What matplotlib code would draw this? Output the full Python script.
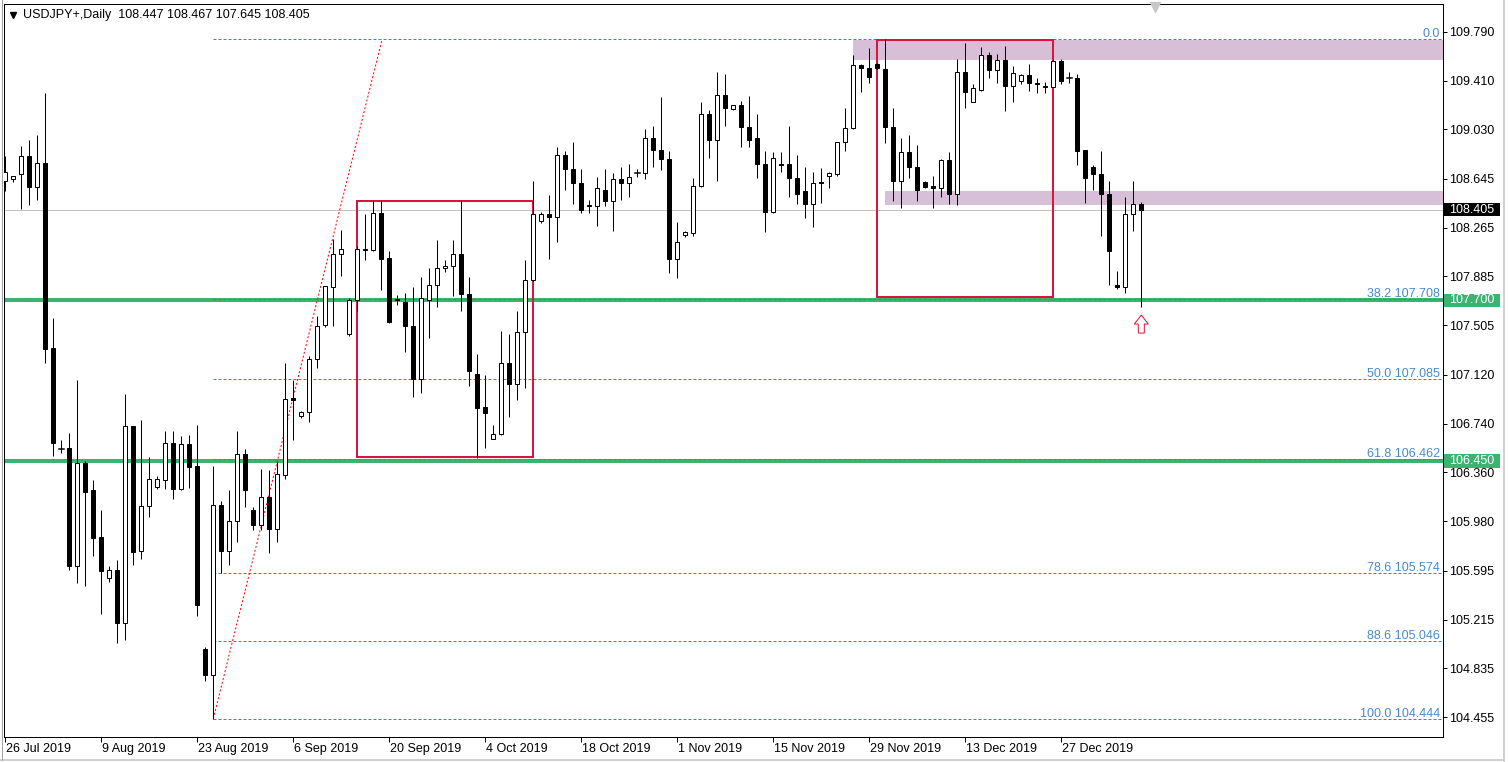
import matplotlib
matplotlib.use('Agg')
import matplotlib.pyplot as plt
import matplotlib.transforms as mtrans
from matplotlib.patches import Rectangle, Polygon
from matplotlib.lines import Line2D
import numpy as np

plt.rcParams['font.family'] = ['Liberation Sans', 'DejaVu Sans']

# ---------------- data (daily bars, USDJPY+) ----------------
opens = [108.63, 108.64, 108.68, 108.82, 108.58, 108.77, 107.33, 106.54, 106.55, 105.63,
         106.43, 106.22, 105.86, 105.54, 105.60, 105.19, 106.72, 105.75, 106.10, 106.25,
         106.30, 106.59, 106.23, 106.58, 106.41, 104.99, 104.78, 106.11, 105.75, 105.98,
         106.50, 106.07, 105.95, 106.17, 105.92, 106.34, 106.94, 106.80, 106.83, 107.24,
         107.51, 107.80, 108.06, 107.44, 107.70, 108.09, 108.09, 108.38, 108.03, 107.71,
         107.69, 107.50, 107.09, 107.70, 107.82, 107.95, 107.97, 108.06, 107.75, 107.13,
         106.87, 106.62, 106.66, 107.21, 107.05, 107.45, 107.86, 108.32, 108.37, 108.35,
         108.83, 108.72, 108.61, 108.44, 108.43, 108.56, 108.47, 108.64, 108.61, 108.69,
         108.69, 108.96, 108.87, 108.80, 108.02, 108.21, 108.22, 108.59, 109.15, 108.95,
         109.30, 109.19, 109.22, 109.05, 108.96, 108.76, 108.39, 108.76, 108.76, 108.65,
         108.55, 108.45, 108.62, 108.67, 108.68, 108.93, 109.04, 109.53, 109.51, 109.54,
         109.50, 109.05, 108.63, 108.85, 108.74, 108.62, 108.59, 108.57, 108.79, 108.53,
         109.48, 109.24, 109.34, 109.61, 109.49, 109.57, 109.37, 109.41, 109.45, 109.39,
         109.37, 109.36, 109.56, 109.43, 109.43, 108.87, 108.74, 108.68, 108.53, 107.82,
         107.80, 108.37, 108.447]
highs = [108.82, 108.67, 108.90, 108.95, 108.99, 109.31, 107.56, 106.61, 106.67, 107.08,
         106.45, 106.30, 106.07, 105.63, 105.68, 106.97, 106.72, 106.77, 106.48, 106.33,
         106.68, 106.68, 106.64, 106.65, 106.73, 105.00, 106.41, 106.14, 106.22, 106.68,
         106.54, 106.09, 106.39, 106.38, 106.44, 107.21, 107.08, 106.84, 107.27, 107.58,
         107.81, 108.18, 108.25, 107.72, 108.12, 108.37, 108.47, 108.47, 108.08, 107.74,
         107.76, 107.80, 107.88, 107.95, 108.17, 108.01, 108.17, 108.47, 107.88, 107.28,
         107.12, 106.73, 107.46, 107.44, 107.62, 108.01, 108.63, 108.39, 108.52, 108.89,
         108.86, 108.93, 108.72, 108.48, 108.66, 108.72, 108.69, 108.74, 108.76, 108.72,
         109.03, 109.06, 109.28, 108.86, 108.31, 108.24, 108.65, 109.24, 109.18, 109.48,
         109.46, 109.22, 109.25, 109.29, 109.15, 108.86, 108.85, 108.85, 109.06, 108.83,
         108.74, 108.70, 108.73, 108.70, 108.93, 109.20, 109.61, 109.54, 109.66, 109.55,
         109.73, 109.20, 108.96, 108.99, 108.91, 108.63, 108.67, 108.80, 108.85, 109.58,
         109.70, 109.38, 109.67, 109.63, 109.62, 109.68, 109.52, 109.46, 109.54, 109.43,
         109.40, 109.57, 109.58, 109.48, 109.46, 108.87, 108.75, 108.86, 108.63, 107.93,
         108.50, 108.63, 108.467]
lows = [108.55, 108.62, 108.41, 108.44, 108.48, 107.21, 106.49, 106.51, 105.60, 105.50,
        105.48, 105.71, 105.26, 105.51, 105.03, 105.06, 105.64, 105.69, 106.01, 106.23,
        106.23, 106.15, 106.22, 106.24, 105.24, 104.74, 104.444, 105.58, 105.64, 105.82,
        106.09, 105.91, 105.91, 105.73, 105.82, 106.31, 106.61, 106.78, 106.75, 107.17,
        107.49, 107.50, 107.89, 107.42, 107.62, 108.01, 108.08, 107.78, 107.52, 107.66,
        107.30, 106.95, 106.98, 107.41, 107.65, 107.92, 107.73, 107.62, 107.03, 106.47,
        106.55, 106.62, 106.65, 106.79, 106.92, 107.02, 107.85, 108.30, 108.02, 108.15,
        108.56, 108.45, 108.38, 108.38, 108.28, 108.43, 108.24, 108.48, 108.50, 108.66,
        108.64, 108.74, 108.71, 107.91, 107.87, 108.19, 108.20, 108.58, 108.81, 108.63,
        109.06, 109.18, 108.89, 108.89, 108.65, 108.23, 108.38, 108.70, 108.50, 108.45,
        108.34, 108.27, 108.46, 108.57, 108.67, 108.86, 109.03, 109.32, 109.39, 109.50,
        108.92, 108.47, 108.42, 108.65, 108.47, 108.57, 108.42, 108.50, 108.45, 108.44,
        109.20, 109.24, 109.33, 109.43, 109.39, 109.17, 109.24, 109.38, 109.33, 109.31,
        109.31, 109.36, 109.38, 109.39, 108.75, 108.46, 108.56, 108.20, 107.82, 107.79,
        107.76, 108.24, 107.645]
closes = [108.70, 108.67, 108.82, 108.58, 108.77, 107.32, 106.59, 106.54, 105.63, 106.43,
          106.21, 105.85, 105.59, 105.60, 105.19, 106.72, 105.74, 106.10, 106.31, 106.31,
          106.59, 106.23, 106.58, 106.40, 105.33, 104.78, 106.11, 105.75, 105.98, 106.50,
          106.22, 105.95, 106.17, 105.92, 106.35, 106.93, 106.92, 106.83, 107.24, 107.50,
          107.81, 108.06, 108.10, 107.70, 108.10, 108.10, 108.38, 108.02, 107.53, 107.70,
          107.50, 107.09, 107.72, 107.82, 107.95, 107.97, 108.06, 107.75, 107.15, 106.86,
          106.82, 106.66, 107.21, 107.05, 107.45, 107.86, 108.37, 108.37, 108.35, 108.83,
          108.72, 108.61, 108.40, 108.43, 108.57, 108.47, 108.64, 108.61, 108.66, 108.69,
          108.96, 108.87, 108.80, 108.02, 108.15, 108.23, 108.59, 109.15, 108.95, 109.30,
          109.20, 109.22, 109.05, 108.95, 108.76, 108.39, 108.81, 108.75, 108.65, 108.53,
          108.45, 108.61, 108.61, 108.69, 108.93, 109.04, 109.53, 109.51, 109.44, 109.51,
          109.05, 108.63, 108.85, 108.74, 108.56, 108.58, 108.57, 108.79, 108.53, 109.48,
          109.32, 109.35, 109.61, 109.49, 109.57, 109.37, 109.47, 109.45, 109.39, 109.38,
          109.36, 109.56, 109.41, 109.43, 108.86, 108.65, 108.68, 108.53, 108.08, 107.80,
          108.37, 108.45, 108.405]

date_bars = [0, 12, 24, 36, 48, 60, 72, 84, 96, 108, 120, 132]
date_labels = ['26 Jul 2019', '9 Aug 2019', '23 Aug 2019', '6 Sep 2019', '20 Sep 2019',
               '4 Oct 2019', '18 Oct 2019', '1 Nov 2019', '15 Nov 2019', '29 Nov 2019',
               '13 Dec 2019', '27 Dec 2019']
price_ticks = [109.790, 109.410, 109.030, 108.645, 108.265, 107.885, 107.505, 107.120,
               106.740, 106.360, 105.980, 105.595, 105.215, 104.835, 104.455]

fib_ratios = ['0.0', '38.2', '50.0', '61.8', '78.6', '88.6', '100.0']
fib_prices = [109.731, 107.708, 107.085, 106.462, 105.574, 105.046, 104.444]
fib_anchor_bars = [26, 47.1]
fib_anchor_prices = [104.444, 109.731]

support_levels = [107.700, 106.450]
last_price = 108.405
header = 'USDJPY+,Daily  108.447 108.467 107.645 108.405'

# red boxes: (bar_left, bar_right, price_low, price_high)
red_boxes = [(43.96, 65.9, 106.478, 108.475), (108.96, 130.9, 107.728, 109.725)]
# purple zones: (bar_left, price_low, price_high), extend to right edge
zones = [(106.0, 109.572, 109.725), (110.0, 108.444, 108.550)]
arrow_bar, arrow_price = 142, 107.585

# ---------------- figure ----------------
W, H, DPI = 1508, 762, 100
fig = plt.figure(figsize=(W / DPI, H / DPI), dpi=DPI)
fig.patch.set_facecolor('white')
L, R, T, B = 4, 1443, 4, 737
ax = fig.add_axes([L / W, (H - B) / H, (R - L) / W, (B - T) / H])
ax.set_facecolor('white')
xmin, xmax = -0.1625, 179.71
ymin, ymax = 104.3013, 110.0056
ax.set_xlim(xmin, xmax)
ax.set_ylim(ymin, ymax)

px = 0.72  # 1 pixel in points

# purple zones
for (b0, p0, p1) in zones:
    ax.add_patch(Rectangle((b0, p0), xmax - b0 + 5, p1 - p0, facecolor='#D8BFD8',
                           edgecolor='none', zorder=1))

# horizontal reference lines
ax.axhline(last_price, color='#C0C0C0', lw=px, zorder=2)
for lvl in support_levels:
    ax.axhline(lvl, color='#3CB371', lw=4 * px, zorder=2)

# fib levels
for r, p in zip(fib_ratios, fib_prices):
    ax.plot([fib_anchor_bars[0], xmax + 5], [p, p], color='#4F7EAD', lw=px,
            ls=(0, (3, 2)), zorder=3, clip_on=True)
    lab = r if r == '0.0' else f'{r} {p:.3f}'
    ax.annotate(lab, xy=((1440 - L) / (R - L), p), xycoords=('axes fraction', 'data'),
                xytext=(0, 2), textcoords='offset pixels', ha='right', va='baseline',
                fontsize=9, color='#4A8AC8', zorder=4)
ax.plot(fib_anchor_bars, fib_anchor_prices, color='red', lw=px, ls=(0, (2, 2)), zorder=3)

# red boxes
for (b0, b1, p0, p1) in red_boxes:
    ax.add_patch(Rectangle((b0, p0), b1 - b0, p1 - p0, facecolor='none',
                           edgecolor='#DC143C', lw=2 * px, zorder=6))

# candles
bw = 0.5
for i, (o, h, l, c) in enumerate(zip(opens, highs, lows, closes)):
    ax.plot([i, i], [l, h], color='black', lw=px, zorder=7, solid_capstyle='butt')
    if abs(c - o) < 0.006:
        ax.plot([i - bw / 2 - 0.06, i + bw / 2 + 0.06], [o, o], color='black', lw=1.5 * px, zorder=8)
    else:
        fc = 'white' if c > o else 'black'
        ax.add_patch(Rectangle((i - bw / 2, min(o, c)), bw, abs(c - o), facecolor=fc,
                               edgecolor='black', lw=px, zorder=8))

# red hollow up-arrow below the last candle (pixel-shaped)
arr = np.array([[0, 0], [7, -9], [3, -9], [3, -18], [-3, -18], [-3, -9], [-7, -9]]) / DPI
tr = fig.dpi_scale_trans + mtrans.ScaledTranslation(arrow_bar, arrow_price, ax.transData)
fig.add_artist(Polygon(arr, closed=True, facecolor='white', edgecolor='#DC143C',
                       lw=px, transform=tr, zorder=9))

# axes styling
for s in ax.spines.values():
    s.set_color('black')
    s.set_linewidth(px)
ax.yaxis.tick_right()
ax.set_yticks(price_ticks)
ax.set_yticklabels([f'{v:.3f}' for v in price_ticks], fontsize=9, color='black')
ax.tick_params(axis='y', direction='out', length=4 * px, width=px, pad=2 * px)
ax.set_xticks(date_bars)
ax.set_xticklabels(date_labels, fontsize=9, ha='left')
ax.tick_params(axis='x', direction='out', length=5 * px, width=px, pad=1 * px)
for lab in ax.get_xticklabels():
    lab.set_transform(lab.get_transform() + mtrans.ScaledTranslation(1 / DPI, 0, fig.dpi_scale_trans))

# price boxes on the right axis
btr = mtrans.blended_transform_factory(fig.transFigure, ax.transData)
hbox = 13.5 / 128.5
for price, col in [(last_price, 'black')] + [(v, '#3CB371') for v in support_levels]:
    fig.add_artist(Rectangle((1444 / W, price - hbox / 2), 56 / W, hbox, facecolor=col,
                             edgecolor='none', transform=btr, zorder=10))
    fig.text(1449 / W, price, f'{price:.3f}', transform=btr, fontsize=9, color='white',
             va='center', ha='left', zorder=11)

# header
fig.add_artist(Line2D([12.5 / W], [1 - 14.5 / H], marker='v', ms=5, color='black',
                      transform=fig.transFigure))
fig.text(23 / W, 1 - 15 / H, header, fontsize=9, color='black', va='center', ha='left')
# chart-shift marker
fig.add_artist(Line2D([1155 / W], [1 - 7 / H], marker='v', ms=7, color='#C8C8C8',
                      transform=fig.transFigure))
# window frame
fig.add_artist(Line2D([1504 / W, 1504 / W], [0, 1], color='#D0D0D0', lw=2 * px,
                      transform=fig.transFigure))
fig.add_artist(Line2D([0, 1504 / W], [1 - 760 / H, 1 - 760 / H], color='#D0D0D0', lw=2 * px,
                      transform=fig.transFigure))
fig.add_artist(Line2D([1.5 / W, 1.5 / W], [1 - 760 / H, 1], color='#A0A0A0', lw=px,
                      transform=fig.transFigure))

fig.savefig('out.png', dpi=DPI, facecolor='white')
